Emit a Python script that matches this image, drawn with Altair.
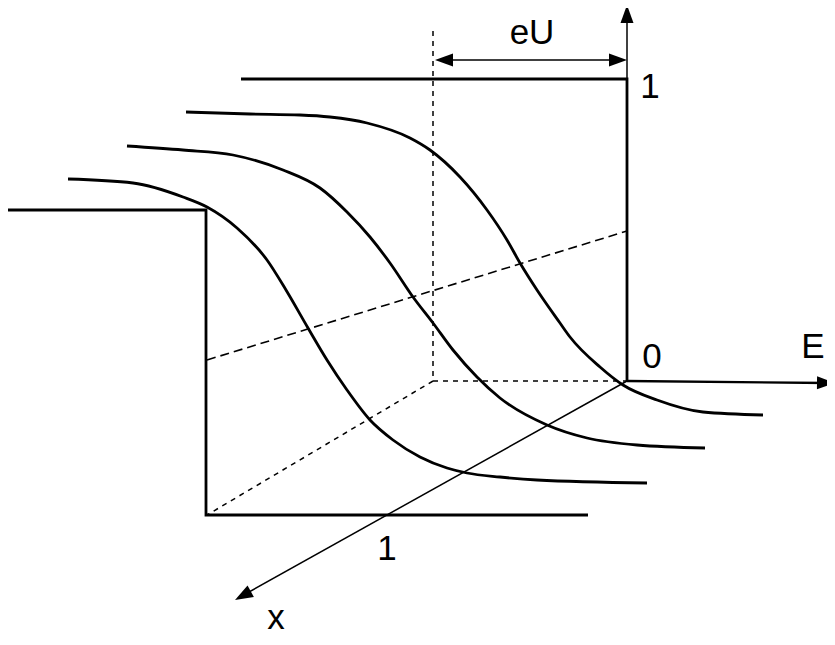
import altair as alt
import pandas as pd

# ---- canvas (plot area in page pixels: page margin is 8px) ----
W, H = 819, 629
X_DOMAIN = [8, 8 + W]
Y_DOMAIN = [8, 8 + H]

# ---- Fermi-type curves (page pixel coordinates) ----
curve1_x = [68, 133, 183, 207, 237, 267, 286, 308, 327, 347, 370, 393, 420, 447, 467, 500, 537, 647]
curve1_y = [179, 183, 197, 207, 228, 260, 290, 328, 360, 390, 420, 440, 457, 468, 473, 477, 480, 483]

curve2_x = [127, 183, 233, 283, 320, 347, 370, 390, 413, 433, 453, 477, 500, 547, 587, 637, 705]
curve2_y = [146, 150, 155, 170, 188, 212, 237, 263, 297, 323, 350, 377, 398, 425, 438, 445, 448]

curve3_x = [186, 250, 300, 330, 367, 410, 430, 460, 487, 507, 520, 537, 560, 570, 600, 623, 657, 703, 763]
curve3_y = [112, 114, 115, 117, 123, 138, 150, 177, 210, 240, 263, 290, 323, 337, 367, 385, 400, 412, 415]

# ---- step functions (T = 0) ----
front_step_x = [8, 206, 206, 588]
front_step_y = [210, 210, 515, 515]
back_step_x = [241, 627, 627]
back_step_y = [79, 79, 381]

# ---- axes ----
e_axis_x = [627, 828]
e_axis_y = [381, 383]
f_axis_x = [627, 627]
f_axis_y = [79, 10]
x_axis_x = [627, 240]
x_axis_y = [381, 597]
eu_x = [440, 622]
eu_y = [60, 60]

# ---- guide lines ----
half_level_x = [207, 627]
half_level_y = [360, 231]
dot_vert_x = [433, 433]
dot_vert_y = [31, 381]
dot_horiz_x = [433, 627]
dot_horiz_y = [381, 381]
dot_diag_x = [433, 207]
dot_diag_y = [381, 515]

# ---- arrow heads: tip position and direction (degrees clockwise from up) ----
arrow_x = [627, 835, 235, 435, 627]
arrow_y = [5, 383, 600, 60, 60]
arrow_angle = [0, 90.5, 240.8, 270, 90]

# ---- labels ----
label_text = ["eU", "1", "0", "E", "1", "x"]
label_x = [532, 650, 652, 813, 387, 276]
label_y = [44, 98, 368, 358, 560, 629]
label_size = [35, 35, 35, 35, 35, 35]


def seg(name, xs, ys):
    return pd.DataFrame({"id": name, "i": range(len(xs)), "x": xs, "y": ys})


curves = pd.concat([seg("c1", curve1_x, curve1_y),
                    seg("c2", curve2_x, curve2_y),
                    seg("c3", curve3_x, curve3_y)])
thick = pd.concat([seg("front", front_step_x, front_step_y),
                   seg("back", back_step_x, back_step_y)])
eaxis = seg("e", e_axis_x, e_axis_y)
thin = pd.concat([seg("f", f_axis_x, f_axis_y),
                  seg("xa", x_axis_x, x_axis_y),
                  seg("eu", eu_x, eu_y)])
dashed = seg("half", half_level_x, half_level_y)
dotted = pd.concat([seg("dv", dot_vert_x, dot_vert_y),
                    seg("dh", dot_horiz_x, dot_horiz_y),
                    seg("dd", dot_diag_x, dot_diag_y)])
arrows = pd.DataFrame({"x": arrow_x, "y": arrow_y, "angle": arrow_angle})
labels = pd.DataFrame({"t": label_text, "x": label_x, "y": label_y, "s": label_size})

xs = alt.X("x:Q", scale=alt.Scale(domain=X_DOMAIN, nice=False, zero=False), axis=None)
ys = alt.Y("y:Q", scale=alt.Scale(domain=Y_DOMAIN, nice=False, zero=False, reverse=True), axis=None)


def lines(df, **kw):
    return alt.Chart(df).mark_line(color="black", **kw).encode(
        x=xs, y=ys, detail="id:N", order="i:Q")


layer_curves = lines(curves, strokeWidth=2.8, interpolate="monotone")
layer_thick = lines(thick, strokeWidth=2.8)
layer_eaxis = lines(eaxis, strokeWidth=2.3)
layer_thin = lines(thin, strokeWidth=1.5)
layer_dashed = lines(dashed, strokeWidth=1.6, strokeDash=[9, 5])
layer_dotted = lines(dotted, strokeWidth=1.5, strokeDash=[5, 5])

layer_arrows = alt.Chart(arrows).mark_point(
    shape="M0,0L0.65,1.8L-0.65,1.8Z", filled=True, size=400,
    color="black", opacity=1, strokeWidth=0
).encode(x=xs, y=ys, angle=alt.Angle("angle:Q", scale=None))

layer_labels = alt.Chart(labels).mark_text(
    font="Liberation Sans", color="black", align="center", baseline="alphabetic"
).encode(x=xs, y=ys, text="t:N", size=alt.Size("s:Q", scale=None))

chart = alt.layer(
    layer_dotted, layer_dashed, layer_thin, layer_eaxis, layer_thick,
    layer_curves, layer_arrows, layer_labels
).properties(
    width=W, height=H, padding=0, autosize="none", background="white"
).configure_view(stroke=None)

chart.save("out.html", embed_options={"renderer": "svg", "actions": False})
